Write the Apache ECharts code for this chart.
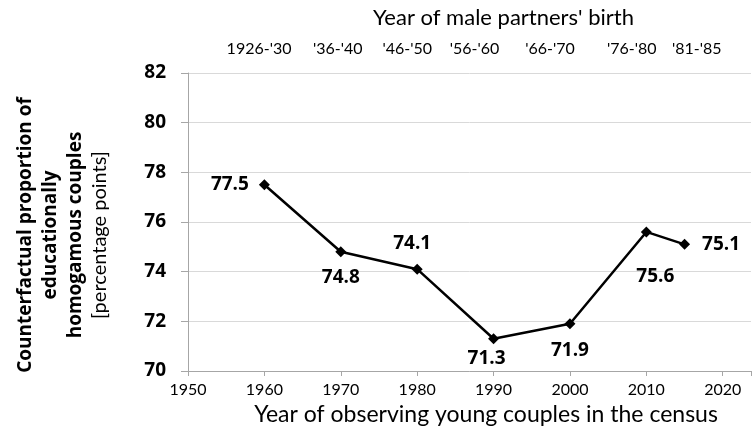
<!DOCTYPE html>
<html>
<head>
<meta charset="utf-8">
<script src="https://cdn.jsdelivr.net/npm/echarts@6.0.0/dist/echarts.min.js"></script>
<style>
    html, body { margin: 0; padding: 0; background: #fff; }
    #chart { width: 754px; height: 438px; }
</style>
</head>
<body>
<div id="chart"></div>
<script>
// census years and counterfactual shares
var censusYears = [1960, 1970, 1980, 1990, 2000, 2010, 2015];
var homogamyShare = [77.5, 74.8, 74.1, 71.3, 71.9, 75.6, 75.1];
// cohort labels on the top axis and where they sit on the year scale
var cohortLabels = ["1926-'30", "'36-'40", "'46-'50", "'56-'60", "'66-'70", "'76-'80", "'81-'85"];
var cohortAt = [1959.3, 1969.6, 1978.7, 1987.5, 1997.4, 2008.1, 2016.6];
var yTicks = [70, 72, 74, 76, 78, 80, 82];

// label placement for each point (left/right/top/bottom)
var labelPos = [
    {position: 'left', distance: 10},
    {position: 'bottom', distance: 11},
    {position: 'top', distance: 11, offset: [-5, 0]},
    {position: 'bottom', distance: 5, offset: [-7, 0]},
    {position: 'bottom', distance: 12},
    {position: 'bottom', distance: 30, offset: [9, 0]},
    {position: 'right', distance: 12}
];

var font = 'Lato, "Open Sans", sans-serif';
var boldFont = '"Open Sans", Lato, sans-serif';
var axisGrey = '#a6a6a6';

var seriesData = [];
for (var i = 0; i < censusYears.length; i++) {
    seriesData.push({
        value: [censusYears[i], homogamyShare[i]],
        label: labelPos[i]
    });
}

var myChart = echarts.init(document.getElementById('chart'));
var option = {
    animation: false,
    backgroundColor: '#fff',
    textStyle: {fontFamily: font, color: '#000'},
    grid: {left: 188, right: 0, top: 73, bottom: 67, containLabel: false},
    xAxis: [{
        type: 'value',
        position: 'bottom',
        min: 1950,
        max: 2023.7,
        interval: 10,
        name: 'Year of observing young couples in the census',
        nameLocation: 'middle',
        nameGap: 27,
        nameTextStyle: {fontSize: 23, fontFamily: font, color: '#000', padding: [0, 0, 0, 33]},
        axisLine: {lineStyle: {color: axisGrey, width: 1}},
        axisTick: {length: 5, lineStyle: {color: axisGrey}},
        axisLabel: {
            fontSize: 16, fontFamily: font, color: '#000', margin: 11,
            formatter: function(v) { return v % 10 === 0 ? String(v) : ''; }
        },
        splitLine: {show: false}
    }, {
        type: 'value',
        position: 'top',
        min: 1950,
        max: 2023.7,
        name: "Year of male partners' birth",
        nameLocation: 'middle',
        nameGap: 44,
        nameTextStyle: {fontSize: 22, fontFamily: font, color: '#000', padding: [0, 0, 0, 68]},
        axisLine: {show: false},
        axisTick: {show: false},
        splitLine: {show: false},
        axisLabel: {
            fontSize: 16, fontFamily: font, color: '#000', margin: 16,
            customValues: cohortAt,
            formatter: function(v) {
                for (var k = 0; k < cohortAt.length; k++) {
                    if (Math.abs(cohortAt[k] - v) < 0.01) return cohortLabels[k];
                }
                return '';
            }
        }
    }],
    yAxis: {
        type: 'value',
        min: yTicks[0],
        max: yTicks[yTicks.length - 1],
        interval: 2,
        name: '{b|Counterfactual proportion of}\n{b|educationally}\n{b|homogamous couples}\n{n|[percentage points]}',
        nameLocation: 'middle',
        nameRotate: 90,
        nameGap: 76,
        nameTextStyle: {
            align: 'center',
            padding: [0, 26, 0, 0],
            rich: {
                b: {fontSize: 19, fontWeight: 'bold', fontFamily: boldFont, color: '#000', lineHeight: 25},
                n: {fontSize: 20, fontFamily: font, color: '#000', lineHeight: 24}
            }
        },
        axisLine: {show: true, lineStyle: {color: axisGrey, width: 1}},
        axisTick: {show: true, length: 7, lineStyle: {color: axisGrey}},
        axisLabel: {fontSize: 19, fontWeight: 'bold', fontFamily: boldFont, color: '#000', margin: 22},
        splitLine: {show: true, lineStyle: {color: '#d9d9d9', width: 1}}
    },
    series: [{
        type: 'line',
        xAxisIndex: 0,
        data: seriesData,
        symbol: 'diamond',
        symbolSize: 11,
        lineStyle: {color: '#000', width: 2.5},
        itemStyle: {color: '#000'},
        label: {
            show: true,
            fontSize: 19,
            fontWeight: 'bold',
            fontFamily: boldFont,
            color: '#000',
            formatter: function(p) { return p.value[1].toFixed(1); }
        }
    }]
};
myChart.setOption(option);
</script>
</body>
</html>
